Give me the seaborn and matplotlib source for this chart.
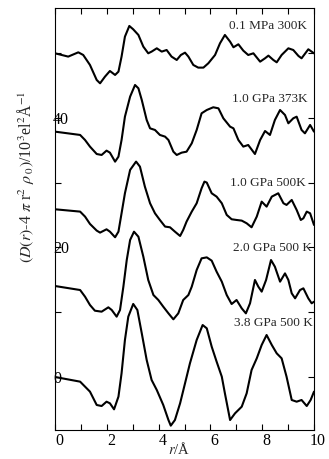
import numpy as np
import pandas as pd
import matplotlib
matplotlib.use("Agg")
import matplotlib.pyplot as plt
import matplotlib.transforms as mtransforms
import seaborn as sns

# ---- data ----
labels = ["0.1 MPa 300K", "1.0 GPa 373K", "1.0 GPa 500K", "2.0 GPa 500 K", "3.8 GPa 500 K"]
offsets = [49.95, 37.86, 25.88, 14.04, 0.0]

r_a = [0, 0.51, 0.90, 1.09, 1.35, 1.61, 1.74, 1.93, 2.12, 2.32, 2.45, 2.57, 2.70, 2.87, 3.02, 3.22,
       3.41, 3.60, 3.73, 3.93, 4.12, 4.31, 4.50, 4.70, 4.86, 5.02, 5.15, 5.34, 5.53, 5.73, 5.92, 6.18,
       6.37, 6.56, 6.76, 6.89, 7.08, 7.27, 7.46, 7.66, 7.92, 8.11, 8.24, 8.43, 8.56, 8.75, 9.01, 9.20,
       9.40, 9.52, 9.78, 10.0]
d_a = [0, -0.51, 0.15, -0.26, -1.80, -4.12, -4.63, -3.60, -2.73, -3.34, -2.83, -0.51, 2.57, 4.22, 3.70, 2.83,
       1.03, 0.0, 0.26, 0.77, 0.26, 0.51, -0.51, -1.03, -0.26, 0.10, -0.51, -1.80, -2.21, -2.21, -1.54, -0.26,
       1.54, 2.83, 1.80, 0.93, 1.39, 0.41, -0.26, 0.0, -1.29, -0.77, -0.36, -1.03, -1.39, -0.26, 0.77, 0.51,
       -0.41, -0.77, 0.62, 0.0]

r_b = [0, 0.97, 1.16, 1.35, 1.61, 1.80, 1.99, 2.12, 2.32, 2.45, 2.57, 2.70, 2.90, 3.09, 3.22, 3.35,
       3.54, 3.67, 3.86, 4.05, 4.25, 4.38, 4.57, 4.70, 4.89, 5.08, 5.28, 5.47, 5.66, 5.86, 6.11, 6.31,
       6.50, 6.76, 6.89, 7.08, 7.27, 7.46, 7.72, 7.92, 8.11, 8.30, 8.49, 8.69, 8.88, 9.01, 9.20, 9.33,
       9.52, 9.65, 9.85, 10.0]
d_b = [0, -0.51, -1.29, -2.31, -3.45, -3.60, -2.93, -3.24, -4.63, -3.86, -1.29, 2.31, 5.40, 7.20, 6.69, 4.89,
       1.80, 0.51, 0.26, -0.51, -0.77, -1.29, -3.09, -3.60, -3.24, -3.09, -1.80, 0.26, 2.83, 3.34, 3.76, 3.60,
       2.06, 0.77, 0.51, -1.29, -2.31, -2.06, -3.45, -1.29, 0.10, -0.51, 1.80, 3.34, 2.57, 1.29, 2.06, 2.31,
       0.26, -0.26, 1.03, 0.0]

r_c = [0, 0.97, 1.16, 1.35, 1.61, 1.74, 1.99, 2.12, 2.32, 2.45, 2.57, 2.70, 2.90, 3.13, 3.28, 3.47,
       3.67, 3.86, 4.05, 4.25, 4.44, 4.63, 4.83, 4.95, 5.08, 5.28, 5.47, 5.66, 5.77, 5.86, 6.05, 6.24,
       6.44, 6.63, 6.82, 7.01, 7.21, 7.40, 7.59, 7.79, 7.98, 8.17, 8.37, 8.62, 8.82, 8.94, 9.14, 9.33,
       9.49, 9.59, 9.72, 9.85, 10.0]
d_c = [0, -0.36, -1.13, -2.26, -3.29, -3.60, -3.09, -3.45, -4.32, -3.45, -0.62, 2.47, 6.07, 7.36, 6.58, 3.50,
       0.93, -0.62, -1.65, -2.67, -2.78, -3.45, -4.12, -3.19, -1.90, -0.36, 0.93, 3.24, 4.27, 4.12, 2.47, 1.95,
       0.93, -0.87, -1.54, -1.65, -1.75, -2.16, -2.78, -1.13, 1.18, 0.41, 1.95, 2.47, 0.93, 0.67, 1.44, -0.10,
       -1.65, -1.39, -0.36, -0.62, -2.42]

r_d = [0, 0.97, 1.16, 1.35, 1.54, 1.80, 2.06, 2.19, 2.38, 2.51, 2.64, 2.77, 2.90, 3.05, 3.22, 3.41,
       3.60, 3.80, 3.99, 4.18, 4.38, 4.57, 4.76, 4.95, 5.15, 5.28, 5.47, 5.66, 5.86, 6.05, 6.24, 6.44,
       6.63, 6.82, 7.01, 7.21, 7.37, 7.53, 7.72, 7.85, 7.98, 8.15, 8.34, 8.49, 8.69, 8.88, 9.01, 9.14,
       9.27, 9.46, 9.59, 9.78, 9.91, 10.0]
d_d = [0, -0.62, -1.65, -2.93, -3.81, -3.96, -3.29, -3.70, -4.73, -3.70, -0.10, 4.01, 7.10, 8.38, 7.61, 4.53,
       0.93, -1.39, -2.16, -3.19, -4.22, -5.14, -4.22, -2.16, -1.39, -0.10, 2.47, 4.27, 4.42, 3.91, 2.21, 0.67,
       -1.39, -2.78, -2.16, -3.45, -4.22, -2.67, 0.93, -0.10, -0.87, 0.93, 4.01, 2.98, 0.67, 1.95, 0.93, -1.13,
       -1.90, -0.62, -0.36, -1.90, -2.67, -2.42]

r_e = [0, 0.97, 1.35, 1.61, 1.80, 1.99, 2.12, 2.28, 2.45, 2.57, 2.70, 2.83, 3.02, 3.18, 3.35, 3.54,
       3.73, 3.93, 4.18, 4.38, 4.47, 4.63, 4.83, 5.02, 5.21, 5.47, 5.70, 5.86, 6.05, 6.24, 6.44, 6.56,
       6.76, 6.95, 7.21, 7.40, 7.59, 7.79, 7.98, 8.17, 8.37, 8.56, 8.75, 8.94, 9.14, 9.33, 9.52, 9.72,
       9.87, 10.0]
d_e = [0, -0.72, -2.26, -4.32, -4.48, -3.81, -4.06, -4.99, -3.03, 0.57, 5.71, 9.31, 11.27, 10.34, 6.74, 2.62,
       -0.46, -2.01, -4.32, -6.64, -7.51, -6.64, -4.06, -0.98, 2.11, 5.71, 8.02, 7.51, 4.68, 2.37, 0.05, -2.52,
       -6.64, -5.61, -4.58, -2.52, 1.08, 2.88, 4.94, 6.48, 4.94, 3.65, 2.88, 0.05, -3.55, -3.81, -3.55, -4.48,
       -3.55, -2.26]

series_r = [r_a, r_b, r_c, r_d, r_e]
series_d = [d_a, d_b, d_c, d_d, d_e]

x_major = [0, 2, 4, 6, 8, 10]
y_major = [0, 20, 40]

# ---- style ----
sns.set_style("ticks")
plt.rcParams["font.family"] = ["Liberation Serif", "DejaVu Serif"]
plt.rcParams["mathtext.fontset"] = "stix"

fig = plt.figure(figsize=(3.29, 4.59), dpi=100)
ax = fig.add_axes([55 / 329, (459 - 430) / 459, (314 - 55) / 329, (430 - 8) / 459])

frames = []
for lab, off, rr, dd in zip(labels, offsets, series_r, series_d):
    frames.append(pd.DataFrame({"r": rr, "y": np.array(dd) + off, "s": lab}))
df = pd.concat(frames, ignore_index=True)

for lab in labels:
    sub = df[df["s"] == lab]
    sns.lineplot(data=sub, x="r", y="y", ax=ax, color="black", lw=1.5, sort=False,
                 estimator=None, legend=False, solid_joinstyle="round", solid_capstyle="round")

ax.set_xlim(0, 10)
ax.set_ylim(-8.18, 56.94)
ax.set_xticks(x_major)
ax.set_xticks(range(0, 11), minor=True)
ax.set_yticks(y_major)
ax.set_yticks([10, 30, 50], minor=True)
ax.tick_params(which="both", direction="in", top=True, right=True, length=4, width=0.8,
               labelsize=11.5, color="black", labelcolor="black")
ax.tick_params(axis="y", pad=1.5)
ax.tick_params(axis="x", pad=2)
for lbl in ax.get_yticklabels():
    lbl.set_horizontalalignment("left")
off_tr = mtransforms.ScaledTranslation(4 / 100, 0, fig.dpi_scale_trans)
for lbl in ax.get_xticklabels():
    lbl.set_transform(lbl.get_transform() + off_tr)
for sp in ax.spines.values():
    sp.set_linewidth(0.8)
    sp.set_color("black")

ax.set_xlabel(r"$r$/Å", fontsize=10.5)
ax.xaxis.set_label_coords(0.48, -0.025)
ax.set_ylabel(r"$(D(r)$-4 $\pi$ r$^2$ $\rho_{\ 0})$/10$^3$el$^2$Å$^{-1}$", fontsize=11.5)
ax.yaxis.set_label_coords(-0.075, 0.60)

label_pos = [(9.72, 54.2), (9.74, 42.85), (9.69, 29.9), (9.94, 19.85), (9.94, 8.28)]
for lab, (xx, yy) in zip(labels, label_pos):
    ax.text(xx, yy, lab, ha="right", va="center", fontsize=9.5)

fig.savefig("out.png", dpi=100)
